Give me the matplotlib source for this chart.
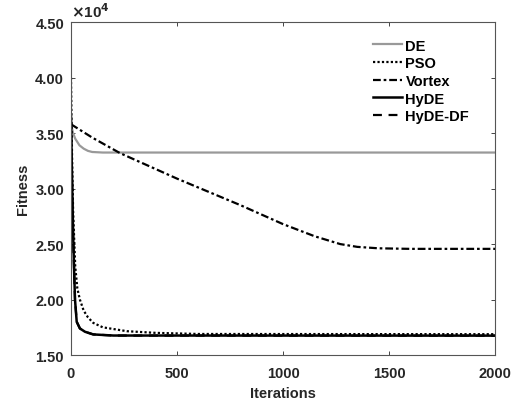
import numpy as np
import matplotlib
matplotlib.use('Agg')
import matplotlib.pyplot as plt

plt.rcParams['font.family'] = ['Liberation Sans', 'DejaVu Sans']
plt.rcParams['font.weight'] = 'bold'

# values, fitness in units of 1e4
de_x = [0, 10, 20, 40, 60, 80, 100, 150, 2000]
de_y = [3.58, 3.50, 3.45, 3.39, 3.36, 3.34, 3.33, 3.325, 3.325]

pso_x = [0, 5, 10, 20, 30, 42, 60, 80, 105, 150, 264, 400, 600, 2000]
pso_y = [4.00, 3.30, 2.80, 2.30, 2.10, 2.00, 1.90, 1.84, 1.79, 1.75, 1.715, 1.70, 1.69, 1.688]

vortex_x = [0, 50, 100, 231, 500, 800, 1000, 1150, 1270, 1350, 1450, 1600, 2000]
vortex_y = [3.58, 3.52, 3.46, 3.32, 3.09, 2.85, 2.68, 2.57, 2.50, 2.475, 2.462, 2.457, 2.457]

hyde_x = [0, 3, 6, 10, 15, 19, 27, 42, 66, 105, 200, 2000]
hyde_y = [3.65, 3.30, 3.00, 2.60, 2.25, 2.00, 1.80, 1.74, 1.71, 1.686, 1.676, 1.675]

hydedf_x = [0, 3, 6, 10, 15, 19, 27, 42, 66, 105, 200, 2000]
hydedf_y = [3.62, 3.28, 2.98, 2.58, 2.24, 2.00, 1.80, 1.74, 1.71, 1.686, 1.676, 1.675]

xticks = [0, 500, 1000, 1500, 2000]
yticks = [1.5, 2.0, 2.5, 3.0, 3.5, 4.0, 4.5]

fig = plt.figure(figsize=(5.2, 4.06), dpi=100)
ax = fig.add_axes([0.1365, 0.123, 0.8155, 0.82])

ax.plot(de_x, de_y, color='#999999', lw=1.6, label='DE')
ax.plot(pso_x, pso_y, color='black', lw=1.6, linestyle=(0, (1, 1)), label='PSO')
ax.plot(vortex_x, vortex_y, color='black', lw=1.6, linestyle=(0, (3.5, 1.3, 1.2, 1.3)), label='Vortex')
ax.plot(hyde_x, hyde_y, color='black', lw=1.8, label='HyDE')
ax.plot(hydedf_x, hydedf_y, color='black', lw=1.6, linestyle=(0, (4, 3)), label='HyDE-DF')

ax.set_xlim(0, 2000)
ax.set_ylim(1.5, 4.5)
ax.set_xticks(xticks)
ax.set_yticks(yticks)
ax.set_yticklabels(['%.2f' % v for v in yticks])
ax.tick_params(direction='in', length=3, width=0.6, colors='#262626', labelsize=10.5,
               top=True, right=True)
ax.tick_params(axis='x', pad=8)
ax.tick_params(axis='y', pad=5)
for s in ax.spines.values():
    s.set_color('#555555')
    s.set_linewidth(0.8)

ax.set_xlabel('Iterations', fontsize=10.5, fontweight='bold', color='#262626', labelpad=4)
ax.set_ylabel('Fitness', fontsize=10.5, fontweight='bold', color='#262626', labelpad=4)
ax.text(0.0, 1.005, r'$\times$10$^{4}$', transform=ax.transAxes, fontsize=11,
        color='#262626', ha='left', va='bottom')

ax.legend(loc='upper right', frameon=False, fontsize=10.5, handlelength=2.0,
          handletextpad=0.25, labelspacing=0.25, bbox_to_anchor=(0.97, 0.99))

fig.savefig('out.png', dpi=100)
